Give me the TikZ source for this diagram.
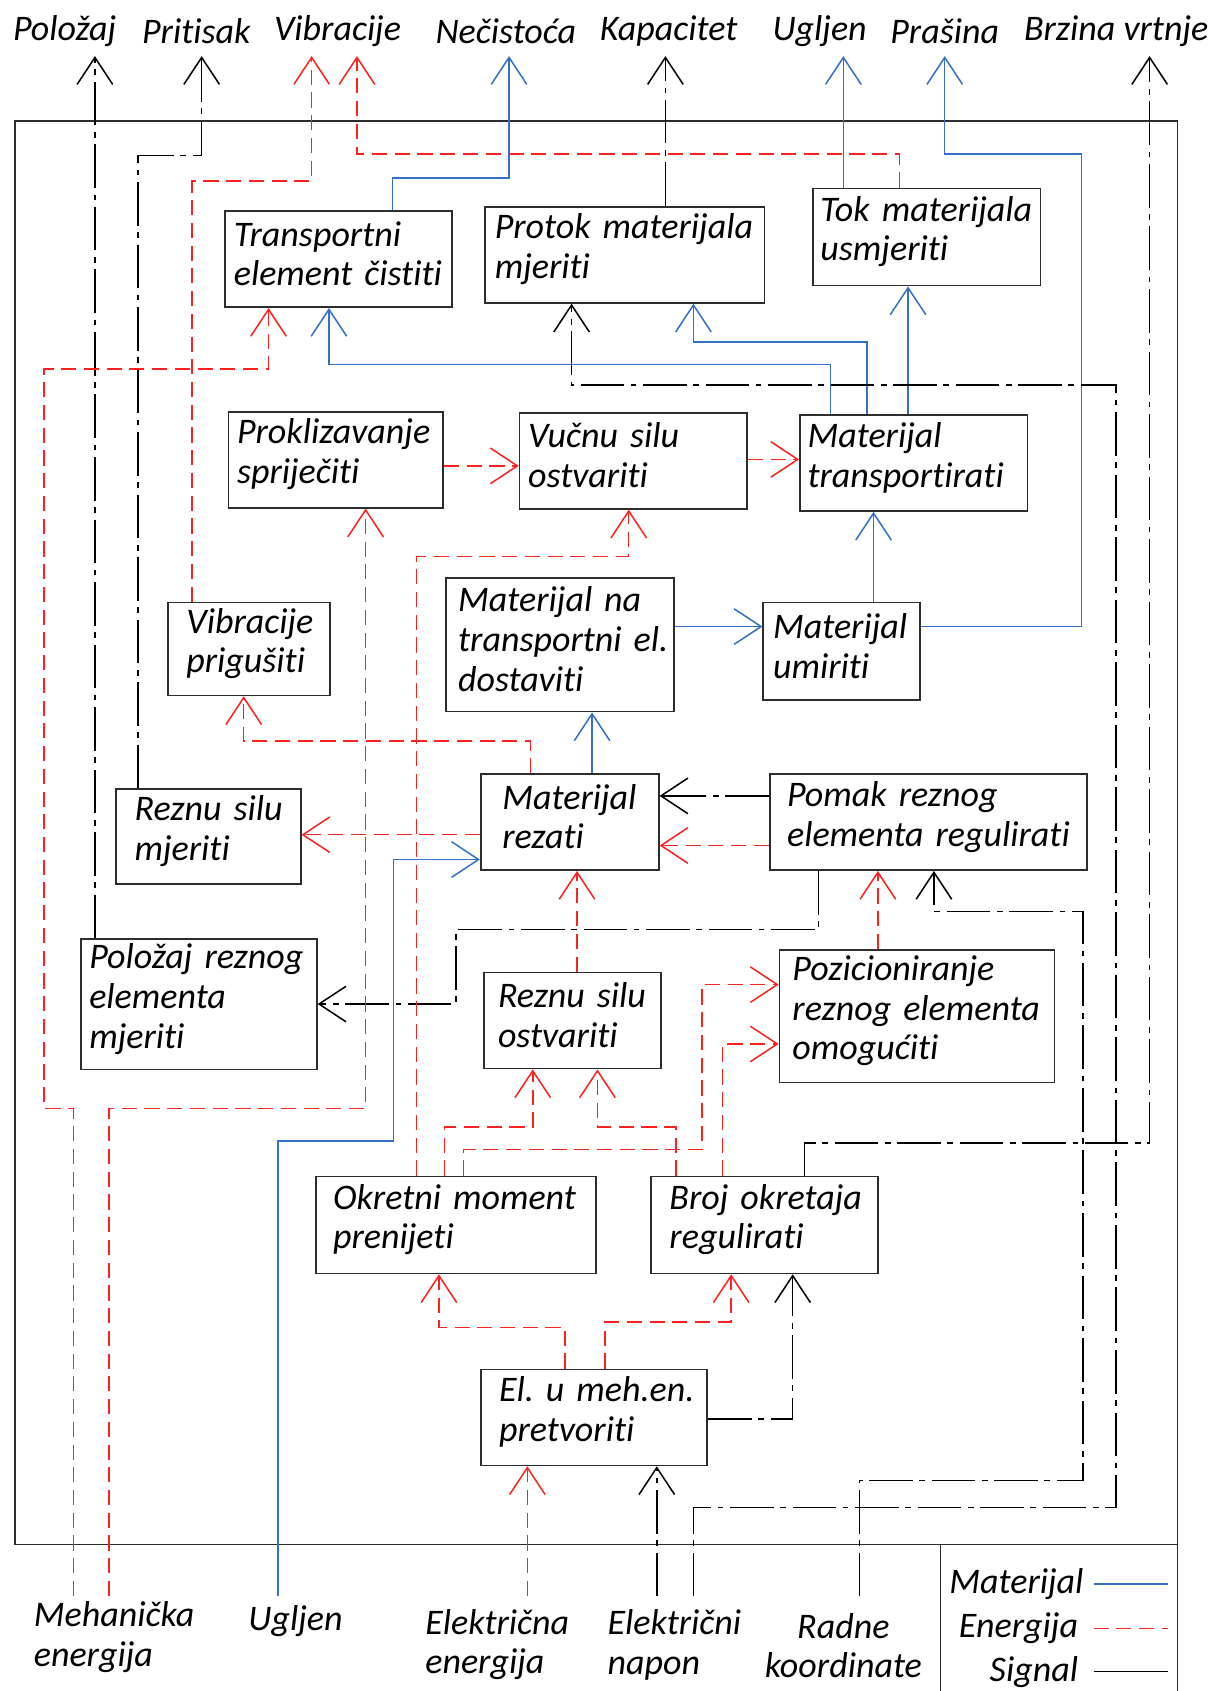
\documentclass[tikz,border=0pt]{standalone}
\usepackage{fontspec}
\setmainfont{Carlito}[Ligatures=NoCommon]
\usetikzlibrary{arrows.meta}
\definecolor{matcol}{RGB}{52,112,200}
\definecolor{encol}{RGB}{255,32,32}
\definecolor{boxcol}{RGB}{45,45,45}
\hyphenpenalty=10000
\exhyphenpenalty=10000

\begin{document}
\begin{tikzpicture}[x=0.02cm, y=-0.02cm,
    font=\fontsize{19}{21}\selectfont\itshape,
    fn/.style n args={3}{draw=boxcol, line width=0.9pt, anchor=north west, inner ysep=0pt, inner xsep=#3*0.02cm, minimum width=#1*0.02cm, minimum height=#2*0.02cm, text width=#1*0.02cm-#3*0.04cm, align=left, execute at end node={\endgraf\kern0.2cm}},
    lbl/.style={inner sep=0pt},
    frm/.style={boxcol, line width=0.85pt},
    mat/.style={matcol, line width=0.8pt},
    en/.style={encol, line width=0.8pt, dash pattern=on 8pt off 4pt},
    sig/.style={black, line width=0.8pt, dash pattern=on 23pt off 3.5pt on 3pt off 3.5pt},
    arw/.style={-{Straight Barb[length=0.5cm, width=0.66cm]}}]

    \useasboundingbox (0,0) rectangle (1125,1568);
    \draw[frm] (14,112) rectangle (1092,1432);
    \draw[frm] (872,1432) -- (872,1568);
    \draw[frm] (1092,1432) -- (1092,1568);

    \node[fn={210}{89}{8}] (tec) at (208,195) {Transportni\\element~čistiti};
    \node[fn={259}{89}{9}] (pmm) at (449,191) {Protok~materijala\\mjeriti};
    \node[fn={211}{90}{7}] (tmu) at (753,174) {Tok~materijala\\usmjeriti};
    \node[fn={199}{89}{8}] (prs) at (211,381) {Proklizavanje\\spriječiti};
    \node[fn={211}{89}{8}] (vso) at (481,382) {Vučnu~silu\\ostvariti};
    \node[fn={211}{89}{7}] (mtr) at (741,384) {Materijal\\transportirati};
    \node[fn={150}{86}{17}] (vpr) at (155,558) {Vibracije\\prigušiti};
    \node[fn={211}{124}{11}] (mnd) at (413,535) {Materijal~na\\transportni~el.\\dostaviti};
    \node[fn={145}{90}{9}] (mum) at (707,558) {Materijal\\umiriti};
    \node[fn={171}{88}{17}] (rsm) at (107,731) {Reznu~silu\\mjeriti};
    \node[fn={165}{89}{20}] (mre) at (445,717) {Materijal\\rezati};
    \node[fn={294}{89}{16}] (pre) at (713,717) {Pomak~reznog\\elementa~regulirati};
    \node[fn={219}{121}{8}] (prm) at (74,870) {Položaj~reznog\\elementa\\mjeriti};
    \node[fn={164}{89}{13}] (rso) at (448,901) {Reznu~silu\\ostvariti};
    \node[fn={255}{123}{12}] (pro) at (722,880) {Pozicioniranje\\reznog~elementa\\omogućiti};
    \node[fn={260}{90}{16}] (omp) at (292,1090) {Okretni~moment\\prenijeti};
    \node[fn={210}{90}{17}] (bor) at (603,1090) {Broj~okretaja\\regulirati};
    \node[fn={210}{89}{17}] (emp) at (445,1269) {El.~u~meh.en.\\pretvoriti};

    \node[lbl] (tpol) at (60,29) {Položaj};
    \node[lbl] (tpri) at (182,29) {Pritisak};
    \node[lbl] (tvib) at (313,29) {Vibracije};
    \node[lbl] (tnec) at (469,29) {Nečistoća};
    \node[lbl] (tkap) at (620,29) {Kapacitet};
    \node[lbl] (tugl) at (760,29) {Ugljen};
    \node[lbl] (tpra) at (876,29) {Prašina};
    \node[lbl] (tbrz) at (1035,29) {Brzina~vrtnje};

    \node[lbl, anchor=west, align=left] (lmeh) at (31,1518) {Mehanička\\energija};
    \node[lbl, anchor=west] (lugl) at (230,1503) {Ugljen};
    \node[lbl, anchor=west, align=left] (lele) at (394,1525) {Električna\\energija};
    \node[lbl, anchor=west, align=left] (lnap) at (563,1525) {Električni\\napon};
    \node[lbl, align=center] (lrad) at (782,1526) {Radne\\koordinate};

    \node[lbl, anchor=east] (lgmat) at (1005,1469) {Materijal};
    \node[lbl, anchor=east] (lgen) at (1000,1510) {Energija};
    \node[lbl, anchor=east] (lgsig) at (1000,1550) {Signal};

    \coordinate (opol) at (88,52);
    \coordinate (opri) at (187,52);
    \coordinate (ovi1) at (289,52);
    \coordinate (ovi2) at (331,52);
    \coordinate (onec) at (472,52);
    \coordinate (okap) at (617,52);
    \coordinate (ougl) at (782,52);
    \coordinate (opra) at (876,52);
    \coordinate (obrz) at (1066,52);
    \coordinate (ime1) at (68,1480);
    \coordinate (ime2) at (101,1480);
    \coordinate (iugl) at (258,1480);
    \coordinate (iele) at (489,1480);
    \coordinate (inp1) at (609,1480);
    \coordinate (inp2) at (643,1480);
    \coordinate (irad) at (797,1480);

    \draw[sig,arw] (prm.north -| 88,0) -- (opol);
    \draw[sig,arw] (rsm.north -| 128,0) |- (187,144) -- (opri);
    \draw[en,arw] (vpr.north -| 178,0) |- (289,168) -- (ovi1);
    \draw[en,arw] (tmu.north -| 834,0) |- (331,143) -- (ovi2);
    \draw[mat,arw] (tec.north -| 364,0) |- (472,165) -- (onec);
    \draw[sig,arw] (pmm.north -| 617,0) -- (okap);
    \draw[mat,arw] (tmu.north -| 782,0) -- (ougl);
    \draw[mat,arw] (mum.east |- 0,581) -| (1003,143) -| (opra);
    \draw[sig,arw] (bor.north -| 746,0) |- (1066,1060) -- (obrz);

    \draw[mat,arw] (mtr.north -| 770,0) |- (305,338) -- (tec.south -| 305,0);
    \draw[mat,arw] (mtr.north -| 804,0) |- (643,317) -- (pmm.south -| 643,0);
    \draw[mat,arw] (mtr.north -| 842,0) -- (tmu.south -| 842,0);
    \draw[en,arw] (prs.east |- 0,432) -- (vso.west |- 0,432);
    \draw[en,arw] (vso.east |- 0,426) -- (mtr.west |- 0,426);
    \draw[mat,arw] (mnd.east |- 0,581) -- (mum.west |- 0,581);
    \draw[mat,arw] (mum.north -| 810,0) -- (mtr.south -| 810,0);
    \draw[mat,arw] (mre.north -| 549,0) -- (mnd.south -| 549,0);
    \draw[en,arw] (mre.north -| 492,0) |- (226,687) -- (vpr.south -| 226,0);
    \draw[en,arw] (mre.west |- 0,774) -- (rsm.east |- 0,774);
    \draw[sig,arw] (pre.west |- 0,738) -- (mre.east |- 0,738);
    \draw[en,arw] (pre.west |- 0,784) -- (mre.east |- 0,784);
    \draw[sig,arw] (pre.south -| 759,0) |- (423,862) |- (prm.east |- 0,931);
    \draw[en,arw] (rso.north -| 535,0) -- (mre.south -| 535,0);
    \draw[en,arw] (pro.north -| 814,0) -- (pre.south -| 814,0);
    \draw[en,arw] (omp.north -| 386,0) |- (583,516) -- (vso.south -| 583,0);
    \draw[en,arw] (omp.north -| 412,0) |- (494,1045) -- (rso.south -| 494,0);
    \draw[en,arw] (omp.north -| 430,0) |- (651,1066) |- (pro.west |- 0,913);
    \draw[en,arw] (bor.north -| 627,0) |- (554,1045) -- (rso.south -| 554,0);
    \draw[en,arw] (bor.north -| 670,0) |- (pro.west |- 0,968);
    \draw[en,arw] (emp.north -| 524,0) |- (407,1231) -- (omp.south -| 407,0);
    \draw[en,arw] (emp.north -| 561,0) |- (678,1226) -- (bor.south -| 678,0);
    \draw[sig,arw] (emp.east |- 0,1316) -| (bor.south -| 735,0);

    \draw[en,arw] (ime1) |- (41,1028) |- (249,342) -- (tec.south -| 249,0);
    \draw[en,arw] (ime2) |- (339,1028) -- (prs.south -| 339,0);
    \draw[mat,arw] (iugl) |- (365,1058) |- (mre.west |- 0,797);
    \draw[en,arw] (iele) -- (emp.south -| 489,0);
    \draw[sig,arw] (inp1) -- (emp.south -| 609,0);
    \draw[sig,arw] (inp2) |- (1035,1398) |- (530,357) -- (pmm.south -| 530,0);
    \draw[sig,arw] (irad) |- (1004,1373) |- (866,845) -- (pre.south -| 866,0);

    \draw[mat] ([xshift=0.18cm]lgmat.east) -- ++(69,0);
    \draw[en] ([xshift=0.28cm]lgen.east) -- ++(69,0);
    \draw[black, line width=0.8pt] ([xshift=0.28cm]lgsig.east) -- ++(69,0);

\end{tikzpicture}
\end{document}
